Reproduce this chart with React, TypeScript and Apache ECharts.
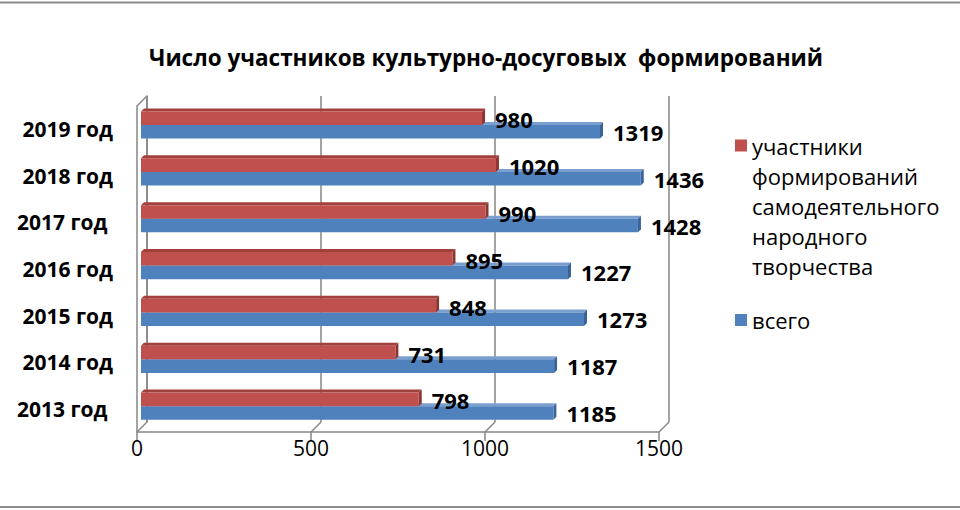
import React, { useEffect, useRef } from "react";
import * as echarts from "echarts";

const TITLE = "Число участников культурно-досуговых  формирований";
const YEARS = ["2013 год ", "2014 год", "2015 год", "2016 год", "2017 год ", "2018 год", "2019 год"];
const PARTICIPANTS = [798, 731, 848, 895, 990, 1020, 980];
const TOTAL = [1185, 1187, 1273, 1227, 1428, 1436, 1319];
const X_TICKS = [0, 500, 1000, 1500];
const RED_NAME = "участники\nформирований\nсамодеятельного\nнародного\nтворчества";
const BLUE_NAME = "всего";

const FONT = "'Open Sans', 'Noto Sans', sans-serif";
const GRAY = "#868686";
const DEPTH = 10;
const RED = { front: "#C0504D", top: "#A2403D", side: "#8C3432" };
const BLUE = { front: "#4F81BD", top: "#7A9FCF", side: "#3A6499" };

function barRenderer(upper: boolean, col: { front: string; top: string; side: string }) {
  return (params: any, api: any) => {
    const v = api.value(0);
    const c = api.value(1);
    const p0 = api.coord([0, c]);
    const p1 = api.coord([v, c]);
    const band = api.size([0, 1])[1];
    const bw = band * 0.29;
    const d = 3;
    const x0 = p0[0];
    const x1 = p1[0];
    const y0 = upper ? p0[1] - bw : p0[1];
    const y1 = y0 + bw;
    return {
      type: "group",
      children: [
        {
          type: "polygon",
          shape: { points: [[x0, y0], [x0 + d, y0 - d], [x1 + d, y0 - d], [x1, y0]] },
          style: { fill: col.top },
        },
        {
          type: "polygon",
          shape: { points: [[x1, y0], [x1 + d, y0 - d], [x1 + d, y1 - d], [x1, y1]] },
          style: { fill: col.side },
        },
        {
          type: "rect",
          shape: { x: x0, y: y0, width: x1 - x0, height: bw },
          style: { fill: col.front },
        },
        {
          type: "text",
          style: {
            text: String(v),
            x: x1 + d + 10,
            y: (y0 + y1) / 2 + (upper ? 1 : 0),
            align: "left",
            verticalAlign: "middle",
            fontFamily: FONT,
            fontWeight: "bold",
            fontSize: 22,
            fill: "#000",
          },
        },
      ],
    };
  };
}

function wallRenderer(params: any, api: any) {
  const v = api.value(0);
  const cs = params.coordSys;
  const x = api.coord([v, 0])[0];
  const yb = cs.y + cs.height;
  const st = { stroke: GRAY, lineWidth: 1.5 };
  const children: any[] = [
    { type: "line", shape: { x1: x, y1: yb, x2: x + DEPTH, y2: yb - DEPTH }, style: st },
  ];
  if (params.dataIndex === 0) {
    children.push({
      type: "line",
      shape: { x1: cs.x, y1: cs.y, x2: cs.x + DEPTH, y2: cs.y - DEPTH },
      style: st,
    });
  }
  return { type: "group", children };
}

export default function App() {
  const ref = useRef<HTMLDivElement>(null);
  useEffect(() => {
    if (!ref.current) return;
    const chart = echarts.init(ref.current, undefined, { renderer: "svg" });
    const frontLeft = 137;
    const frontTop = 106;
    const plotW = 522;
    const plotH = 326;
    const legendText = { fontFamily: FONT, fontSize: 22, lineHeight: 30, color: "#000" };
    const option: any = {
      animation: false,
      backgroundColor: "#fff",
      title: {
        text: TITLE,
        left: 486,
        textAlign: "center",
        top: 42,
        padding: 0,
        textStyle: { fontFamily: FONT, fontWeight: "bold", fontSize: 22.5, lineHeight: 30, color: "#000" },
      },
      legend: [
        {
          data: [RED_NAME],
          formatter: (name: string) => "\n\n\n\n" + name,
          orient: "vertical",
          left: 735,
          top: 10.5,
          padding: 0,
          icon: "rect",
          itemWidth: 12,
          itemHeight: 12,
          selectedMode: false,
          textStyle: legendText,
        },
        {
          data: [BLUE_NAME],
          orient: "vertical",
          left: 735,
          top: 305,
          padding: 0,
          icon: "rect",
          itemWidth: 12,
          itemHeight: 12,
          selectedMode: false,
          textStyle: legendText,
        },
      ],
      grid: [
        { left: frontLeft + 4, top: frontTop - 4.4, width: plotW, height: 328, containLabel: false },
        { left: frontLeft + DEPTH, top: frontTop - DEPTH, width: plotW, height: plotH, containLabel: false },
        { left: frontLeft, top: frontTop, width: plotW, height: plotH, containLabel: false },
      ],
      xAxis: [
        { gridIndex: 0, type: "value", min: 0, max: 1500, interval: 500, show: false },
        {
          gridIndex: 1,
          type: "value",
          min: 0,
          max: 1500,
          interval: 500,
          axisLine: { show: false },
          axisTick: { show: false },
          axisLabel: { show: false },
          splitLine: { show: true, lineStyle: { color: GRAY, width: 1.5 } },
        },
        {
          gridIndex: 2,
          type: "value",
          min: 0,
          max: 1500,
          interval: 500,
          axisLine: { show: true, lineStyle: { color: GRAY, width: 1.5 } },
          axisTick: { show: true, length: 9, lineStyle: { color: GRAY, width: 1.5 } },
          axisLabel: {
            show: true,
            margin: 5,
            fontFamily: FONT,
            fontSize: 21,
            color: "#000",
            formatter: (v: number) => String(v),
          },
          splitLine: { show: false },
        },
      ],
      yAxis: [
        { gridIndex: 0, type: "category", data: YEARS, show: false },
        {
          gridIndex: 1,
          type: "category",
          data: YEARS,
          axisLine: { show: true, lineStyle: { color: GRAY, width: 1.5 } },
          axisTick: { show: false },
          axisLabel: { show: false },
        },
        {
          gridIndex: 2,
          type: "category",
          data: YEARS,
          axisLine: { show: true, lineStyle: { color: GRAY, width: 1.5 } },
          axisTick: { show: false },
          axisLabel: {
            show: true,
            margin: 24,
            fontFamily: FONT,
            fontWeight: "bold",
            fontSize: 21,
            color: "#000",
          },
        },
      ],
      series: [
        {
          type: "custom",
          name: "walls",
          xAxisIndex: 2,
          yAxisIndex: 2,
          z: 1,
          silent: true,
          data: X_TICKS.map((v) => [v, 0]),
          renderItem: wallRenderer,
        },
        {
          type: "custom",
          name: BLUE_NAME,
          xAxisIndex: 0,
          yAxisIndex: 0,
          z: 2,
          itemStyle: { color: BLUE.front },
          encode: { x: 0, y: 1 },
          data: TOTAL.map((v, i) => [v, i]),
          renderItem: barRenderer(false, BLUE),
        },
        {
          type: "custom",
          name: RED_NAME,
          xAxisIndex: 0,
          yAxisIndex: 0,
          z: 3,
          itemStyle: { color: RED.front },
          encode: { x: 0, y: 1 },
          data: PARTICIPANTS.map((v, i) => [v, i]),
          renderItem: barRenderer(true, RED),
        },
      ],
      graphic: [
        { type: "line", shape: { x1: 0, y1: 2.5, x2: 960, y2: 2.5 }, style: { stroke: "#8c8c8c", lineWidth: 2 } },
        { type: "line", shape: { x1: 0, y1: 507, x2: 960, y2: 507 }, style: { stroke: "#8c8c8c", lineWidth: 2 } },
      ],
    };
    chart.setOption(option);
    return () => chart.dispose();
  }, []);
  return (
    <div
      ref={ref}
      style={{ position: "fixed", left: 0, top: 0, width: 960, height: 510 }}
    />
  );
}
